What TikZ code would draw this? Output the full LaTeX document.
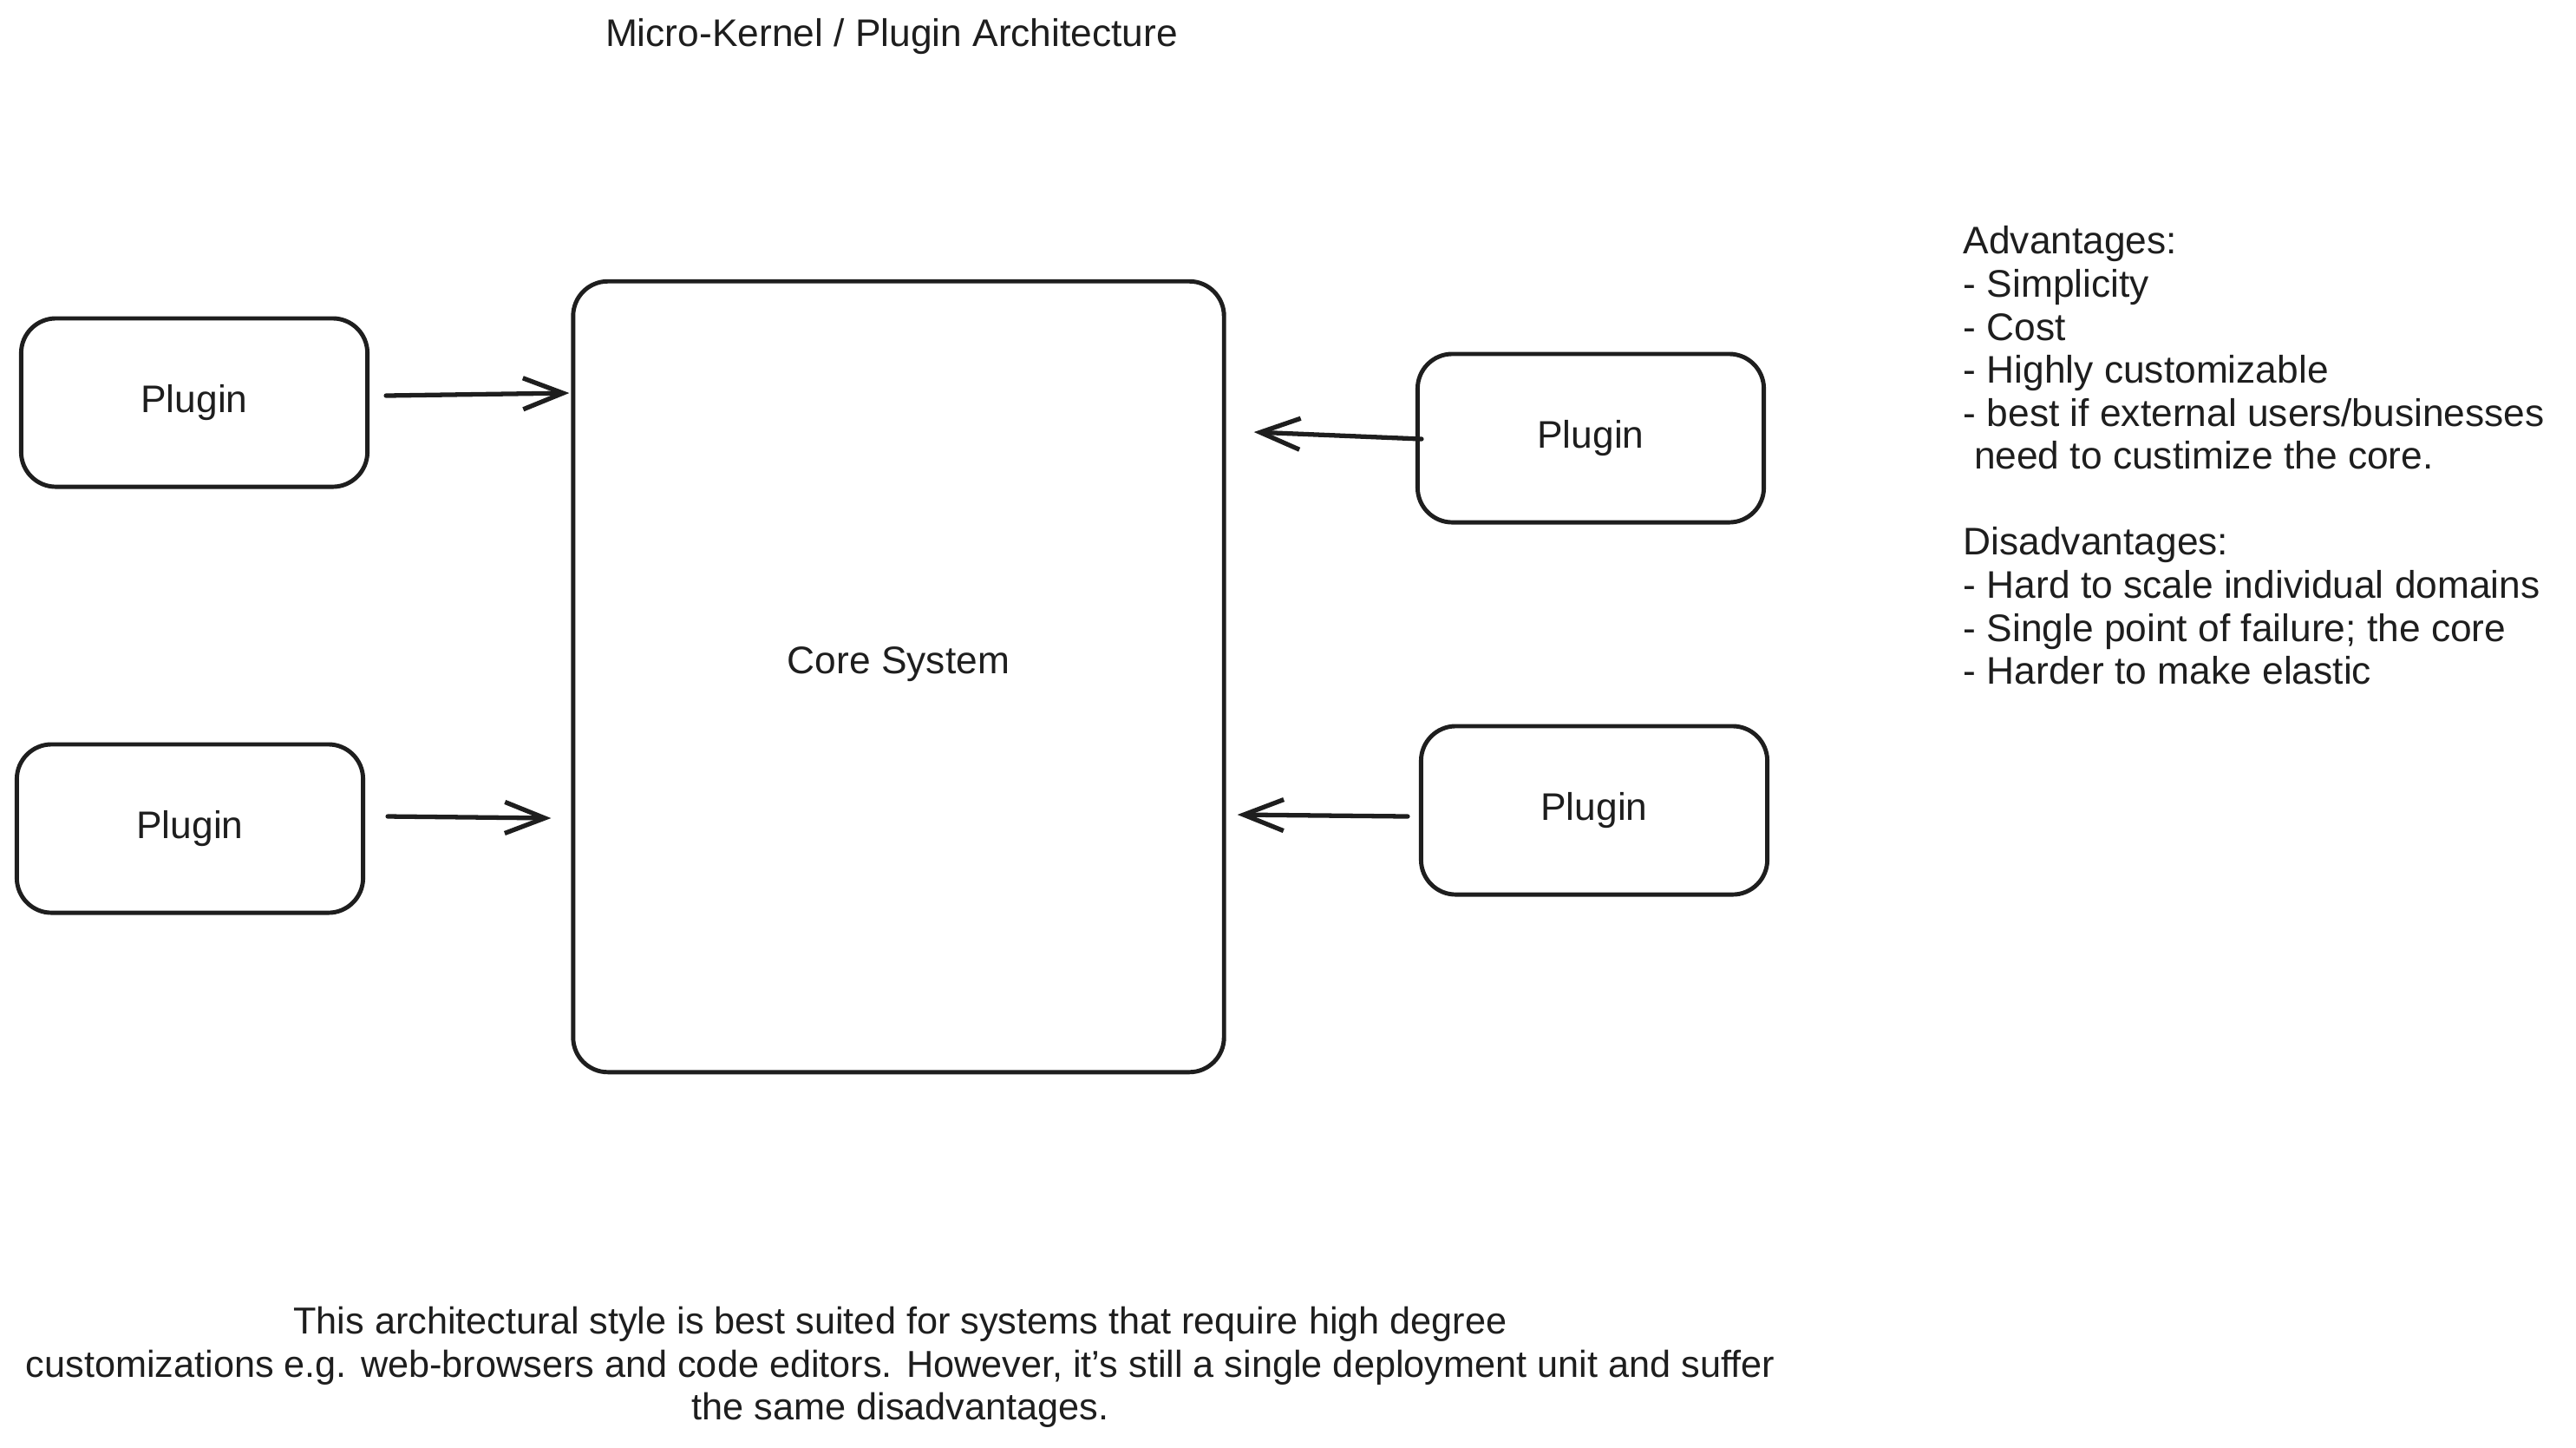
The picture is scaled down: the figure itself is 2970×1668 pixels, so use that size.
\documentclass[tikz,border=0pt]{standalone}
\usepackage{fontspec}
\setmainfont{Liberation Sans}
\usepackage{xcolor}
\definecolor{mkink}{HTML}{1E1E1E}
\usepackage{tikz}
\usetikzlibrary{arrows.meta,calc}
\newcommand{\mkfont}{\fontsize{12.6pt}{14.1pt}\selectfont}
\newcommand{\mksmall}{\fontsize{12.3pt}{14.1pt}\selectfont}
\tikzset{
  mkplug/.style={draw=mkink,line width=1.4pt,rounded corners=0.4cm,minimum width=3.99cm,minimum height=1.94cm,font=\mkfont,text=mkink},
  mkcore/.style={draw=mkink,line width=1.4pt,rounded corners=0.4cm,minimum width=7.5cm,minimum height=9.11cm},
  mkflow/.style={-{Straight Barb[length=4.6mm,width=3.6mm]},line width=1.5pt,draw=mkink,line cap=round},
  mknote/.style={font=\mkfont,text=mkink,inner sep=0pt},
}

\begin{document}
\begin{tikzpicture}[x=0.01cm,y=-0.01cm]
\useasboundingbox (0,0) rectangle (2970,1668);
\node[mknote] (title) at (1028,42) {Micro-Kernel / Plugin Architecture};
\node[mkcore, label={[mknote,yshift=0.14cm]center:Core System}] (core) at (1036,780) {};
\node[mkplug] (ptl) at (224,464) {Plugin};
\node[mkplug] (pbl) at (219,955) {Plugin};
\node[mkplug] (ptr) at (1834,505) {Plugin};
\node[mkplug] (pbr) at (1838,934) {Plugin};
\draw[mkflow] ($(ptl.east)+(19,-8)$) -- ($(core.west|-ptl.east)+(-2,-11)$);
\draw[mkflow] ($(pbl.east)+(26,-14)$) -- ($(core.west|-pbl.east)+(-23,-12)$);
\draw[mkflow] ($(ptr.west)+(7,1)$) -- ($(core.east|-ptr.west)+(32,-7)$);
\draw[mkflow] ($(pbr.west)+(-13,7)$) -- ($(core.east|-pbr.west)+(13,5)$);
\node[mknote, anchor=north west, align=left] (pros) at (2263,260) {Advantages:\\
- Simplicity\\
- Cost\\
- Highly customizable\\
- best if external users/businesses\\
\ need to custimize the core.\\
\mbox{}\\
Disadvantages:\\
- Hard to scale individual domains\\
- Single point of failure; the core\\
- Harder to make elastic};
\node[mknote, font=\mksmall, align=center] (summary) at (1038,1576) {This architectural style is best suited for systems that require high degree\\
customizations e.g. web-browsers and code editors. However, it's still a single deployment unit and suffer\\
the same disadvantages.};
\end{tikzpicture}
\end{document}
